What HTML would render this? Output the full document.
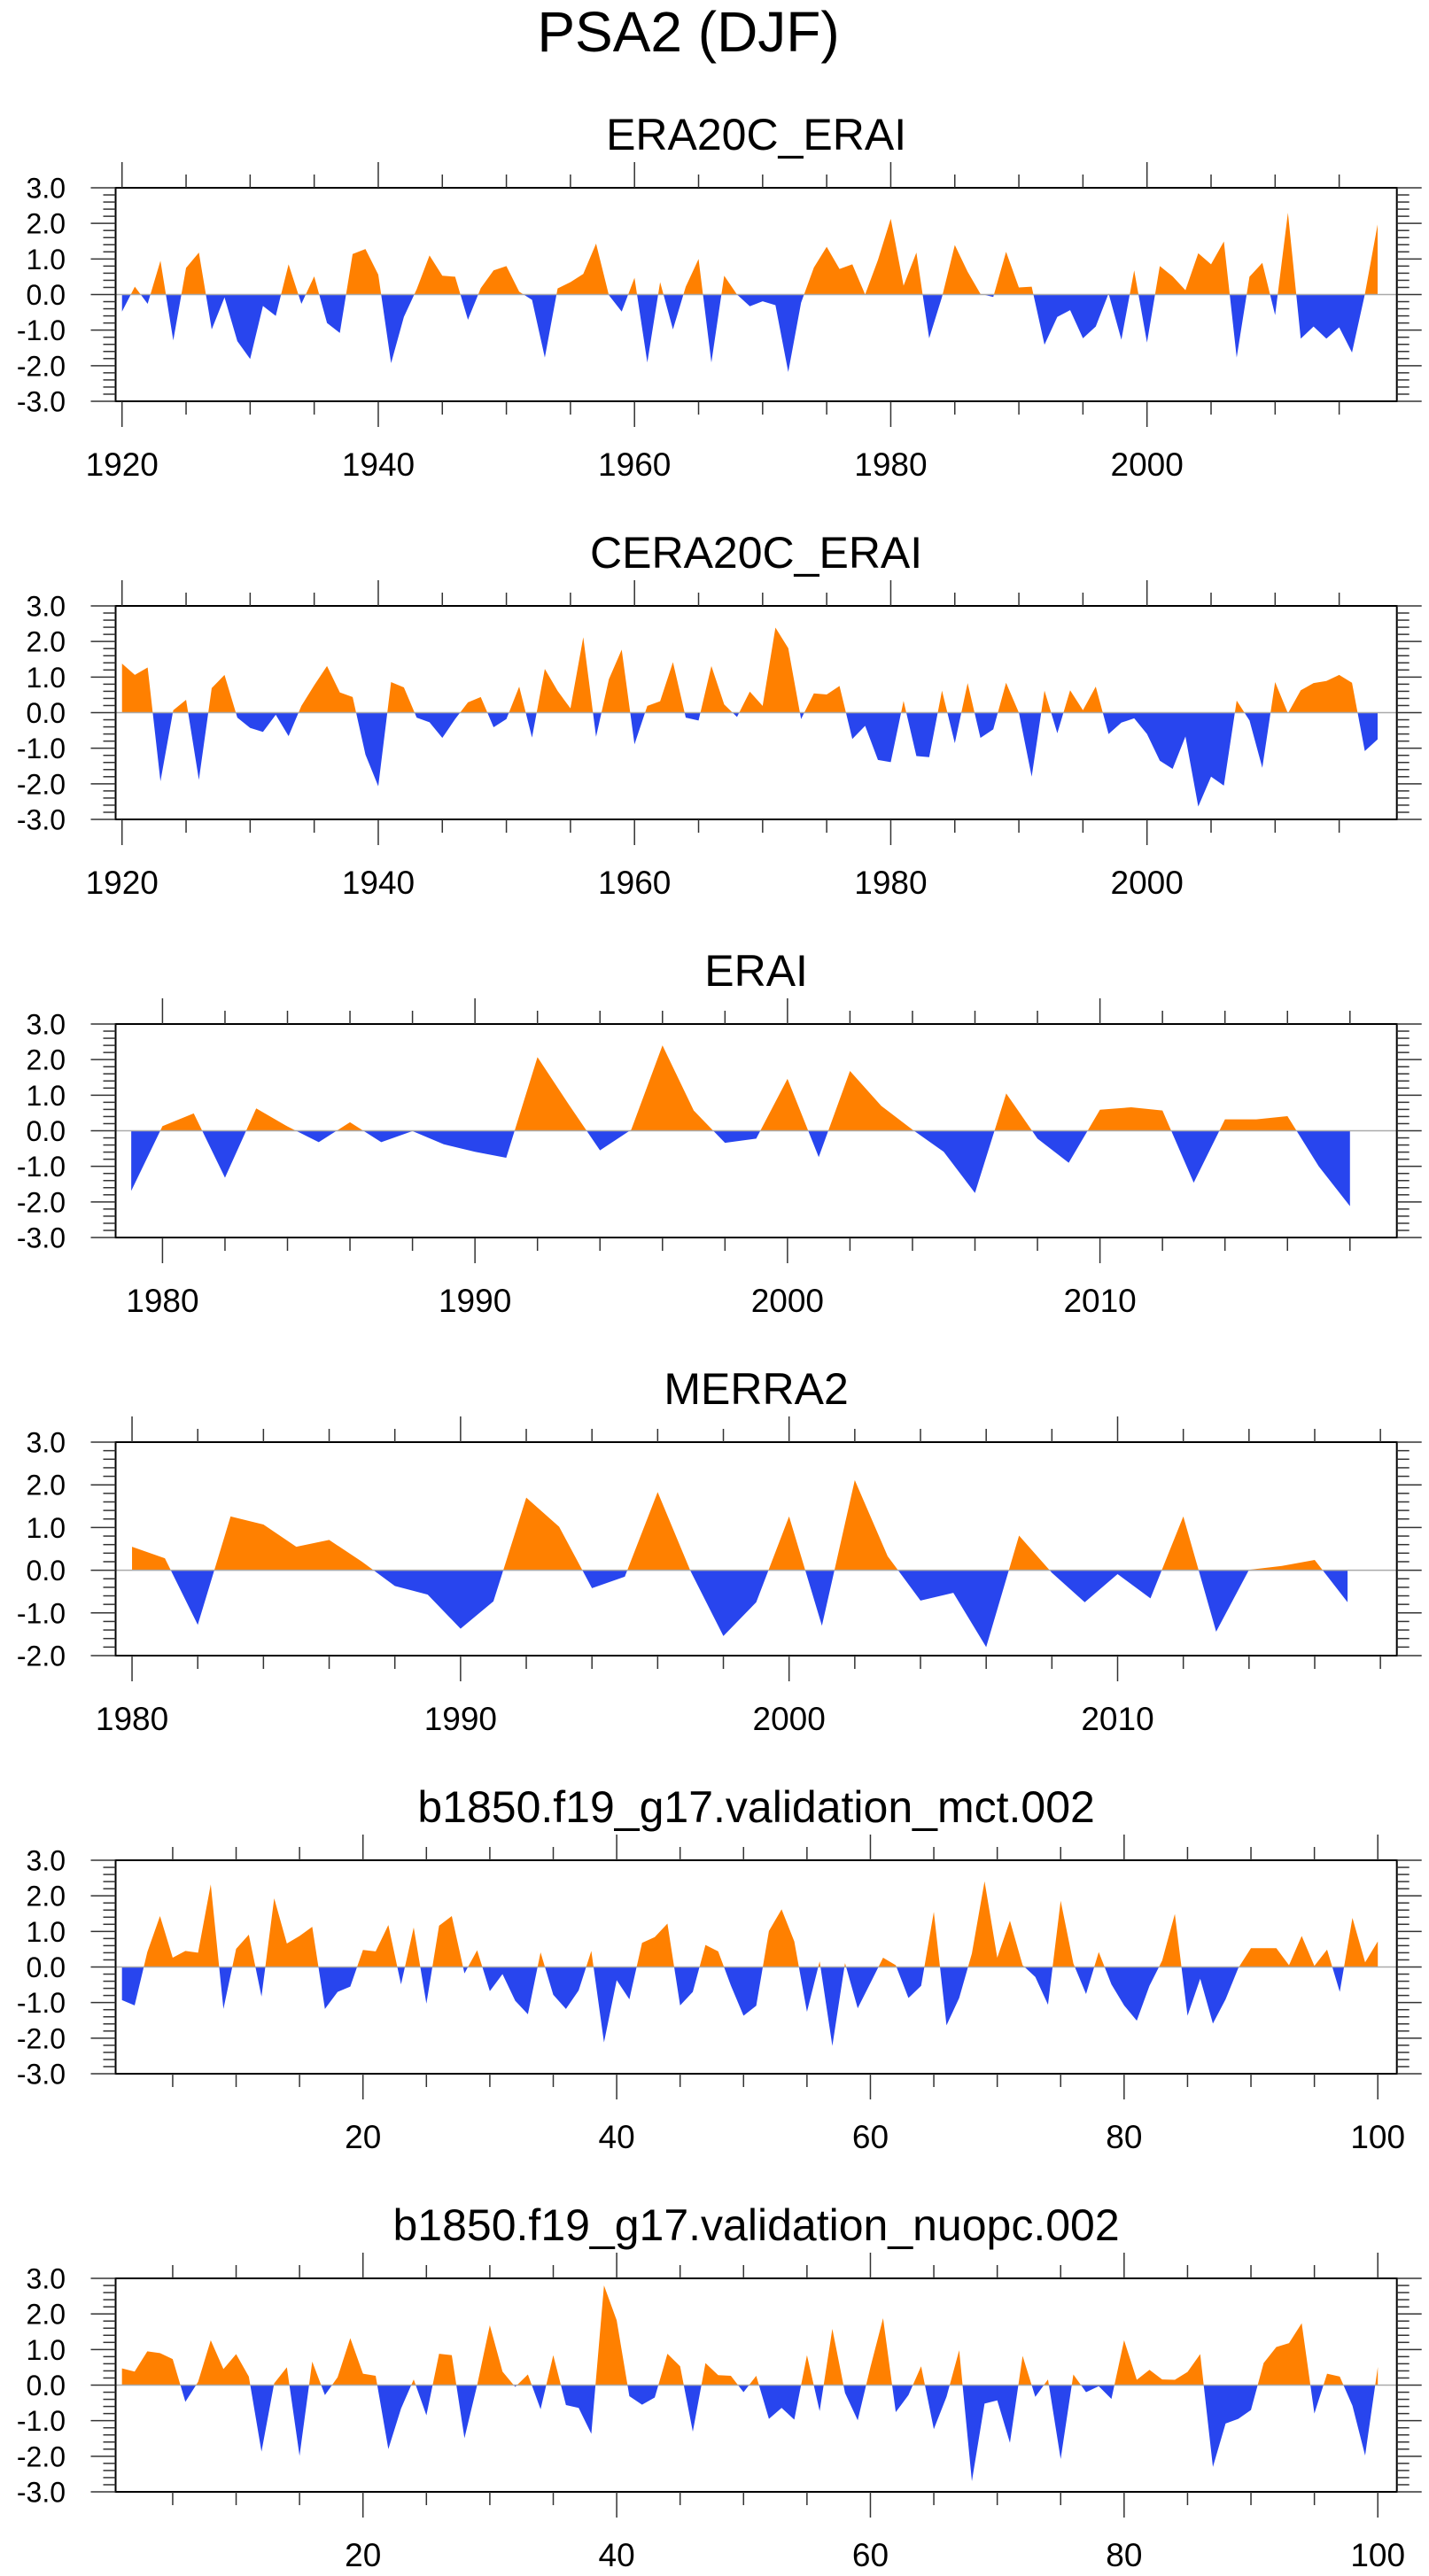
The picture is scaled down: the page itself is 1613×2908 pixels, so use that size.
<!DOCTYPE html>
<html><head><meta charset="utf-8"><style>
html,body{margin:0;padding:0;background:#fff;}
svg{display:block;font-family:"Liberation Sans",Arial,sans-serif;}
</style></head><body>
<svg id="chart" width="1613" height="2908" viewBox="0 0 1613 2908" xmlns="http://www.w3.org/2000/svg">
<text x="777" y="58" font-size="64" text-anchor="middle">PSA2 (DJF)</text>
</svg>
<script>
// ---- data ----
const titles = ["ERA20C_ERAI","CERA20C_ERAI","ERAI","MERRA2","b1850.f19_g17.validation_mct.002","b1850.f19_g17.validation_nuopc.002"];
const startYears = [1920, 1920, 1979, 1980, 1, 1];
const yMins = [-3, -3, -3, -2, -3, -3];
const yMaxs = [3, 3, 3, 3, 3, 3];
const xMajorStep = [20, 20, 10, 10, 20, 20];
const xMinorStep = [5, 5, 2, 2, 5, 5];
const xLabelStart = [1920, 1920, 1980, 1980, 20, 20];

const era20c = [-0.48,0.22,-0.26,0.95,-1.29,0.75,1.18,-0.98,-0.08,-1.31,-1.81,-0.32,-0.6,0.85,-0.26,0.51,-0.8,-1.08,1.14,1.28,0.56,-1.93,-0.63,0.15,1.1,0.53,0.5,-0.71,0.18,0.68,0.8,0.08,-0.15,-1.77,0.17,0.35,0.58,1.43,-0.02,-0.48,0.47,-1.91,0.35,-0.98,0.22,1.0,-1.91,0.53,0.0,-0.33,
-0.19,-0.3,-2.18,-0.23,0.76,1.34,0.72,0.85,0.0,0.97,2.13,0.25,1.18,-1.23,-0.07,1.39,0.64,0.02,-0.07,1.2,0.2,0.22,-1.41,-0.63,-0.44,-1.23,-0.9,0.03,-1.27,0.68,-1.35,0.8,0.51,0.12,1.16,0.85,1.49,-1.77,0.5,0.89,-0.58,2.3,-1.24,-0.9,-1.24,-0.92,-1.63,0.0,1.97];
const cera20c = [1.38,1.06,1.27,-1.93,0.07,0.36,-1.89,0.69,1.06,-0.14,-0.43,-0.54,-0.06,-0.66,0.19,0.77,1.31,0.57,0.44,-1.18,-2.07,0.86,0.71,-0.14,-0.27,-0.71,-0.18,0.29,0.44,-0.41,-0.18,0.73,-0.7,1.23,0.61,0.12,2.12,-0.68,0.94,1.77,-0.89,0.19,0.32,1.42,-0.14,-0.22,1.31,0.23,-0.12,0.59,
0.19,2.39,1.81,-0.18,0.54,0.51,0.75,-0.74,-0.37,-1.33,-1.39,0.33,-1.22,-1.25,0.62,-0.86,0.83,-0.71,-0.47,0.84,0.0,-1.8,0.62,-0.58,0.63,0.07,0.73,-0.6,-0.28,-0.16,-0.6,-1.35,-1.58,-0.67,-2.64,-1.8,-2.05,0.34,-0.22,-1.55,0.86,-0.02,0.63,0.83,0.89,1.06,0.84,-1.08,-0.75];
const erai = [-1.69,0.13,0.49,-1.32,0.63,0.12,-0.32,0.24,-0.32,-0.01,-0.38,-0.59,-0.76,2.07,0.74,-0.55,0.03,2.4,0.57,-0.34,-0.22,1.46,-0.74,1.68,0.7,0.03,-0.59,-1.75,1.05,-0.22,-0.9,0.59,0.66,0.57,-1.46,0.32,0.32,0.41,-1.0,-2.12];
const merra2 = [0.55,0.28,-1.28,1.26,1.07,0.55,0.71,0.2,-0.37,-0.57,-1.37,-0.73,1.7,1.02,-0.42,-0.15,1.83,-0.02,-1.54,-0.75,1.26,-1.3,2.11,0.33,-0.71,-0.53,-1.8,0.81,-0.06,-0.75,-0.09,-0.66,1.26,-1.44,0.01,0.1,0.24,-0.75];
const mct = [-0.93,-1.08,0.42,1.43,0.26,0.45,0.4,2.32,-1.18,0.51,0.91,-0.83,1.93,0.66,0.87,1.13,-1.18,-0.7,-0.55,0.48,0.44,1.18,-0.49,1.11,-1.03,1.16,1.43,-0.18,0.47,-0.68,-0.2,-0.95,-1.33,0.41,-0.78,-1.18,-0.66,0.45,-2.12,-0.37,-0.91,0.68,0.84,1.22,-1.08,-0.7,0.62,0.44,-0.52,-1.37,-1.09,
1.01,1.62,0.72,-1.26,0.16,-2.22,0.11,-1.16,-0.45,0.26,0.05,-0.87,-0.53,1.55,-1.64,-0.87,0.38,2.41,0.26,1.3,0.05,-0.28,-1.06,1.86,0.1,-0.76,0.42,-0.49,-1.08,-1.51,-0.53,0.18,1.49,-1.37,-0.33,-1.59,-0.91,-0.03,0.53,0.53,0.53,0.05,0.87,0.03,0.49,-0.7,1.38,0.13,0.72];
const nuopc = [0.47,0.38,0.95,0.9,0.73,-0.47,0.09,1.26,0.45,0.87,0.24,-1.87,0.05,0.5,-1.99,0.66,-0.28,0.22,1.32,0.32,0.26,-1.8,-0.66,0.16,-0.85,0.88,0.84,-1.49,0.0,1.68,0.38,-0.05,0.3,-0.68,0.84,-0.56,-0.64,-1.37,2.8,1.82,-0.31,-0.55,-0.35,0.88,0.53,-1.31,0.62,0.28,0.26,-0.2,0.26,
-0.95,-0.64,-0.97,0.84,-0.73,1.58,-0.22,-0.99,0.5,1.88,-0.76,-0.28,0.53,-1.24,-0.33,0.98,-2.7,-0.52,-0.43,-1.62,0.82,-0.33,0.16,-2.08,0.3,-0.2,-0.03,-0.39,1.26,0.15,0.43,0.16,0.15,0.37,0.87,-2.3,-1.08,-0.95,-0.7,0.62,1.07,1.18,1.74,-0.8,0.32,0.24,-0.58,-1.98,0.51];
const series = [era20c, cera20c, erai, merra2, mct, nuopc];

// ---- drawing ----
const NS = "http://www.w3.org/2000/svg";
const svg = document.getElementById("chart");
const L = 130.5, R = 1576.7, H = 241, TOP0 = 212, STEP = 472;
function mk(tag, attrs, parent){ const e = document.createElementNS(NS, tag); for (const k in attrs) e.setAttribute(k, attrs[k]); (parent||svg).appendChild(e); return e; }
function fmt(v){ return v.toFixed(1); }

series.forEach((vals, p) => {
  const top = TOP0 + p*STEP, bot = top + H;
  const x0 = startYears[p] - 0.5, x1 = startYears[p] + vals.length + 0.5;
  const ymin = yMins[p], ymax = yMaxs[p];
  const sx = v => L + (v - x0) / (x1 - x0) * (R - L);
  const sy = v => bot - (v - ymin) / (ymax - ymin) * H;
  const g = mk("g", {});
  
  

  const t = mk("text", {x:(L+R)/2, y: top-43, "font-size":50, "text-anchor":"middle"}, g);
  
  
  t.textContent = titles[p];

  const y0 = sy(0);
  let pts = sx(startYears[p]).toFixed(2) + "," + y0.toFixed(2) + " ";
  vals.forEach((v,i) => { pts += sx(startYears[p]+i).toFixed(2) + "," + sy(v).toFixed(2) + " "; });
  pts += sx(startYears[p]+vals.length-1).toFixed(2) + "," + y0.toFixed(2);
  const cpA = mk("clipPath", {id:"ca"+p}, g); mk("rect", {x:L, y:top, width:R-L, height:y0-top}, cpA);
  const cpB = mk("clipPath", {id:"cb"+p}, g); mk("rect", {x:L, y:y0, width:R-L, height:bot-y0}, cpB);
  const pos = mk("polygon", {points:pts, fill:"#ff8000", "clip-path":"url(#ca"+p+")"}, g);
  
  
  const neg = mk("polygon", {points:pts, fill:"#2845ee", "clip-path":"url(#cb"+p+")"}, g);
  
  
  const zl = mk("line", {x1:L, x2:R, y1:y0, y2:y0, stroke:"#aaa", "stroke-width":1.5}, g);
  
  

  const fr = mk("rect", {x:L, y:top, width:R-L, height:H, fill:"none", stroke:"#000", "stroke-width":2}, g);
  
  

  // y ticks
  for (let k = Math.round(ymin*5); k <= Math.round(ymax*5); k++) {
    const v = k/5, y = sy(v), major = (k % 5 === 0), len = major ? 28 : 14;
    mk("line", {x1:L-len, x2:L, y1:y, y2:y, stroke:"#333", "stroke-width":1.5}, g);
    mk("line", {x1:R, x2:R+len, y1:y, y2:y, stroke:"#333", "stroke-width":1.5}, g);
    if (major) {
      const lb = mk("text", {x:74, y:y+11.5, "font-size":32, "text-anchor":"end"}, g);
      
      
      lb.textContent = fmt(v);
    }
  }
  // x ticks
  const first = Math.ceil(x0 / xMinorStep[p]) * xMinorStep[p];
  for (let v = first; v <= x1; v += xMinorStep[p]) {
    const x = sx(v), major = ((v - xLabelStart[p]) % xMajorStep[p] === 0), len = major ? 29 : 15;
    mk("line", {x1:x, x2:x, y1:top-len, y2:top, stroke:"#333", "stroke-width":1.5}, g);
    mk("line", {x1:x, x2:x, y1:bot, y2:bot+len, stroke:"#333", "stroke-width":1.5}, g);
    if (major) {
      const lb = mk("text", {x:x, y:bot+84, "font-size":37, "text-anchor":"middle"}, g);
      
      
      lb.textContent = String(v);
    }
  }
});
</script>
</body></html>
